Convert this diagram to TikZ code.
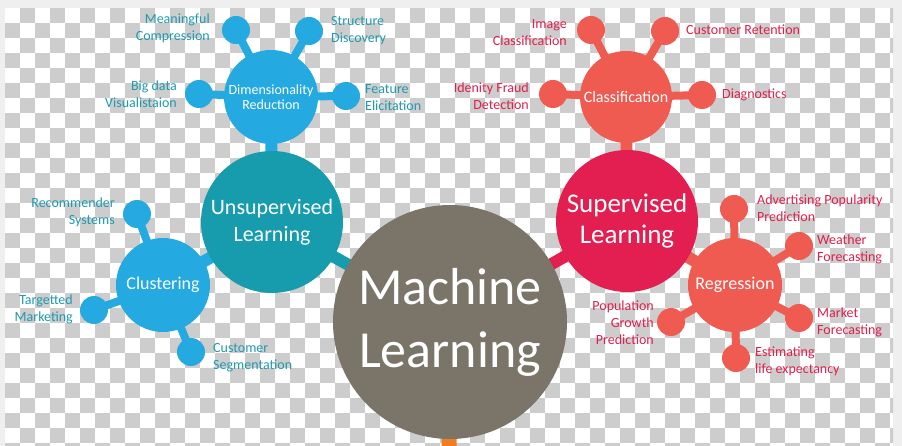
\documentclass[tikz,border=0pt]{standalone}
\usepackage{fontspec}
\setmainfont{Carlito}
\usetikzlibrary{positioning}
\definecolor{pagebg}{HTML}{EFEFEF}
\definecolor{checker}{HTML}{CDCDCD}
\definecolor{mlgray}{HTML}{7B7569}
\definecolor{unsup}{HTML}{179CAE}
\definecolor{skyblue}{HTML}{24A9E1}
\definecolor{unsuptext}{HTML}{1E9AB0}
\definecolor{sup}{HTML}{E31E50}
\definecolor{salmon}{HTML}{EF5B51}
\definecolor{suptext}{HTML}{E01F4C}
\definecolor{stubcol}{HTML}{F07D22}
\pgfdeclarelayer{back}
\pgfdeclarelayer{links}
\pgfsetlayers{back,links,main}

\begin{document}
\begin{tikzpicture}[x=1pt,y=-1pt,
  hub/.style={circle,fill=#1,text=white,inner sep=0pt,align=center},
  dot/.style={circle,fill=#1,minimum size=28pt,inner sep=0pt},
  arm/.style={line width=8pt,#1},
  trunk/.style={line width=12pt,#1},
  lblL/.style={anchor=north west,align=left,inner sep=0pt,text=#1,
               font=\fontsize{14}{17}\selectfont},
  lblR/.style={anchor=north east,align=right,inner sep=0pt,text=#1,
               font=\fontsize{14}{17}\selectfont}]
  \useasboundingbox (0,0) rectangle (902,446);

  % transparency checkerboard behind everything
  \begin{pgfonlayer}{back}
    \fill[pagebg] (0,0) rectangle (902,446);
    \begin{scope}
      \clip (5,8) rectangle (893,446);
      \fill[white] (5,8) rectangle (893,446);
      \foreach \i in {0,...,59}
        \foreach \j in {0,2,...,28}
          \fill[checker] ({5+15*\i},{8+15*(\j+mod(\i+1,2))}) rectangle ++(15,15);
    \end{scope}
  \end{pgfonlayer}

  % the hubs
  \node[hub=mlgray,minimum size=234pt,font=\fontsize{52}{63}\selectfont]
      (ml) at (450,322) {Machine\\Learning};
  \node[hub=unsup,minimum size=142pt,font=\fontsize{22}{27}\selectfont]
      (ul) at (272,222) {Unsupervised\\Learning};
  \node[hub=skyblue,minimum size=94pt,font=\fontsize{14}{15}\selectfont]
      (dr) at (271,97) {Dimensionality\\Reduction};
  \node[hub=skyblue,minimum size=94pt,font=\fontsize{18}{20}\selectfont]
      (clu) at (163,285) {Clustering};
  \node[hub=sup,minimum size=142pt,font=\fontsize{27}{31}\selectfont]
      (sl) at (627,221) {Supervised\\Learning};
  \node[hub=salmon,minimum size=92pt,font=\fontsize{16}{18}\selectfont]
      (cls) at (626,97) {Classification};
  \node[hub=salmon,minimum size=94pt,font=\fontsize{18}{20}\selectfont]
      (reg) at (735,285) {Regression};
  \coordinate (stub) at (449,446);

  % leaves of dimensionality reduction
  \node[dot=skyblue] (mc) at (236,30) {};
  \node[dot=skyblue] (sd) at (309,31) {};
  \node[dot=skyblue] (bd) at (199,94) {};
  \node[dot=skyblue] (fe) at (346,96) {};
  \node[lblR=unsuptext] (mcl) at (210,14) {Meaningful\\Compression};
  \node[lblL=unsuptext] (sdl) at (331,16) {Structure\\Discovery};
  \node[lblR=unsuptext] (bdl) at (177,81) {Big data\\Visualistaion};
  \node[lblL=unsuptext] (fel) at (365,84) {Feature\\Elicitation};

  % leaves of clustering
  \node[dot=skyblue] (rs) at (137,214) {};
  \node[dot=skyblue] (tm) at (94,310) {};
  \node[dot=skyblue] (cs) at (191,352) {};
  \node[lblR=unsuptext] (rsl) at (115,198) {Recommender\\Systems};
  \node[lblR=unsuptext] (tml) at (73,295) {Targetted\\Marketing};
  \node[lblL=unsuptext] (csl) at (213,343) {Customer\\Segmentation};

  % leaves of classification
  \node[dot=salmon] (ic) at (591,30) {};
  \node[dot=salmon] (cr) at (665,31) {};
  \node[dot=salmon] (fd) at (553,94) {};
  \node[dot=salmon] (dg) at (702,95) {};
  \node[lblR=suptext] (icl) at (567,19) {Image\\Classification};
  \node[lblL=suptext] (crl) at (686,25) {Customer Retention};
  \node[lblR=suptext] (fdl) at (529,83) {Idenity Fraud\\Detection};
  \node[lblL=suptext] (dgl) at (722,89) {Diagnostics};

  % leaves of regression
  \node[dot=salmon] (ap) at (734,209) {};
  \node[dot=salmon] (wf) at (799,246) {};
  \node[dot=salmon] (mf) at (799,318) {};
  \node[dot=salmon] (le) at (736,358) {};
  \node[dot=salmon] (pg) at (671,322) {};
  \node[lblL=suptext] (apl) at (757,195) {Advertising Popularity\\Prediction};
  \node[lblL=suptext] (wfl) at (817,235) {Weather\\Forecasting};
  \node[lblL=suptext] (mfl) at (817,308) {Market\\Forecasting};
  \node[lblL=suptext] (lel) at (755,347) {Estimating\\life expectancy};
  \node[lblR=suptext] (pgl) at (654,301) {Population\\Growth\\Prediction};

  % connectors, kept under the circles
  \begin{pgfonlayer}{links}
    \draw[trunk=unsup] (ul.center) -- (ml.center);
    \draw[trunk=sup] (sl.center) -- (ml.center);
    \draw[trunk=skyblue] (dr.center) -- (ul.center);
    \draw[trunk=skyblue] (clu.center) -- (ul.center);
    \draw[trunk=salmon] (cls.center) -- (sl.center);
    \draw[trunk=salmon] (reg.center) -- (sl.center);
    \draw[line width=15pt,stubcol] (ml.center) -- (stub);
    \foreach \d in {mc,sd,bd,fe} \draw[arm=skyblue] (\d.center) -- (dr.center);
    \foreach \d in {rs,tm,cs} \draw[arm=skyblue] (\d.center) -- (clu.center);
    \foreach \d in {ic,cr,fd,dg} \draw[arm=salmon] (\d.center) -- (cls.center);
    \foreach \d in {ap,wf,mf,le,pg} \draw[arm=salmon] (\d.center) -- (reg.center);
  \end{pgfonlayer}
\end{tikzpicture}
\end{document}
